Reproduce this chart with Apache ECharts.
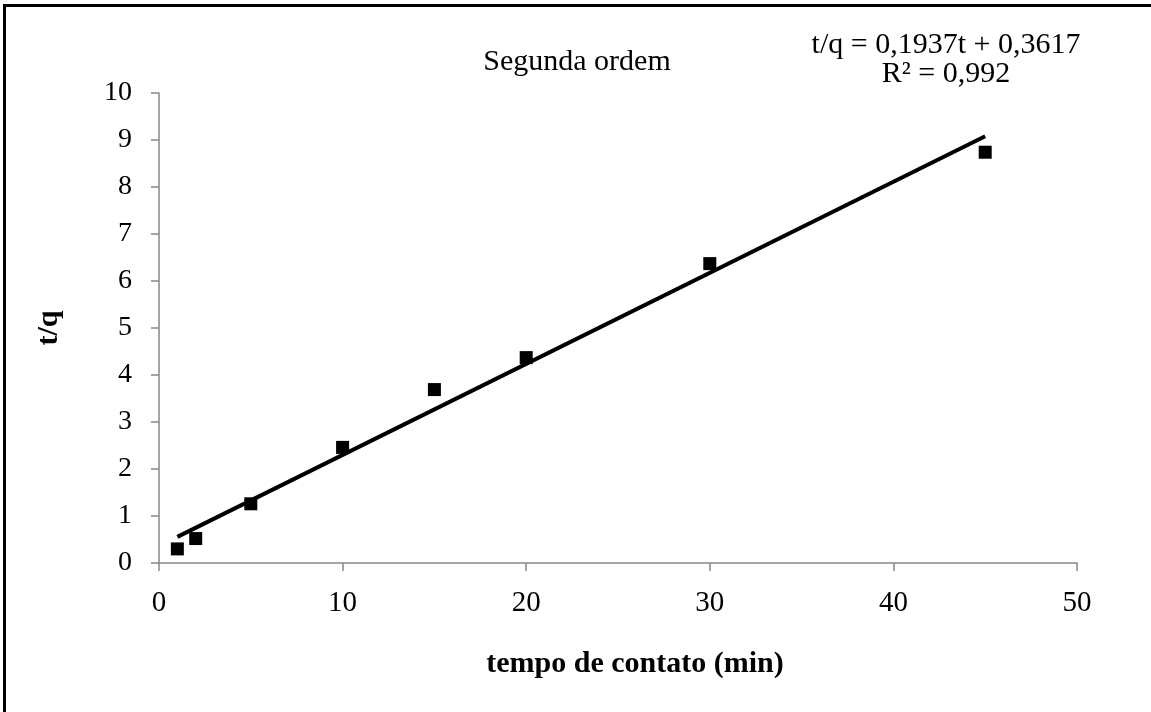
<!DOCTYPE html>
<html>
<head>
<meta charset="utf-8">
<script src="https://cdn.jsdelivr.net/npm/echarts@6/dist/echarts.min.js"></script>
<style>html,body{margin:0;padding:0;background:#fff}#c{width:1151px;height:712px}</style>
</head>
<body>
<div id="c"></div>
<script>
// Data
var tempo = [1, 2, 5, 10, 15, 20, 30, 45];
var tq = [0.30, 0.52, 1.26, 2.46, 3.69, 4.37, 6.37, 8.74];
var trendX = [1, 45];
var trendY = [0.555, 9.08];
var chartTitle = 'Segunda ordem';
var eqLine1 = 't/q = 0,1937t + 0,3617';
var eqLine2 = 'R² = 0,992';
var xName = 'tempo de contato (min)';
var yName = 't/q';

var FONT = '"Liberation Serif", "Times New Roman", serif';
var chart = echarts.init(document.getElementById('c'));
chart.setOption({
  backgroundColor: '#fff',
  animation: false,
  grid: {left: 159, right: 74, top: 93, bottom: 149, containLabel: false},
  graphic: [
    {type: 'rect', shape: {x: 4.5, y: 5.5, width: 1300, height: 900}, style: {fill: 'none', stroke: '#000', lineWidth: 3}, z: 100, silent: true},
    {type: 'text', x: 577, y: 62, style: {text: chartTitle, font: '30px ' + FONT, fill: '#000', textAlign: 'center', textVerticalAlign: 'middle'}},
    {type: 'text', x: 946, y: 45, style: {text: eqLine1, font: '30px ' + FONT, fill: '#000', textAlign: 'center', textVerticalAlign: 'middle'}},
    {type: 'text', x: 946, y: 74, style: {text: eqLine2, font: '30px ' + FONT, fill: '#000', textAlign: 'center', textVerticalAlign: 'middle'}}
  ],
  xAxis: {
    type: 'value', min: 0, max: 50, interval: 10,
    name: xName, nameLocation: 'middle', nameGap: 86,
    nameTextStyle: {fontFamily: FONT, fontSize: 30, fontWeight: 'bold', color: '#000', padding: [0, 0, 0, 34]},
    axisLine: {show: true, lineStyle: {color: '#868686', width: 1.5}},
    axisTick: {show: true, inside: false, length: 8, lineStyle: {color: '#868686', width: 1.5}},
    axisLabel: {fontFamily: FONT, fontSize: 29, color: '#000', margin: 26},
    splitLine: {show: false}
  },
  yAxis: {
    type: 'value', min: 0, max: 10, interval: 1,
    name: yName, nameLocation: 'middle', nameGap: 95, nameRotate: 90,
    nameTextStyle: {fontFamily: FONT, fontSize: 30, fontWeight: 'bold', color: '#000'},
    axisLine: {show: true, lineStyle: {color: '#868686', width: 1.5}},
    axisTick: {show: true, inside: false, length: 8, lineStyle: {color: '#868686', width: 1.5}},
    axisLabel: {fontFamily: FONT, fontSize: 28, color: '#000', margin: 27},
    splitLine: {show: false}
  },
  series: [
    {
      type: 'line', data: trendX.map(function (x, i) { return [x, trendY[i]]; }),
      symbol: 'none', lineStyle: {color: '#000', width: 4}, z: 2, silent: true
    },
    {
      type: 'scatter', data: tempo.map(function (x, i) { return [x, tq[i]]; }),
      symbol: 'rect', symbolSize: 13, itemStyle: {color: '#000', opacity: 1}, z: 3
    }
  ]
});
</script>
</body>
</html>
